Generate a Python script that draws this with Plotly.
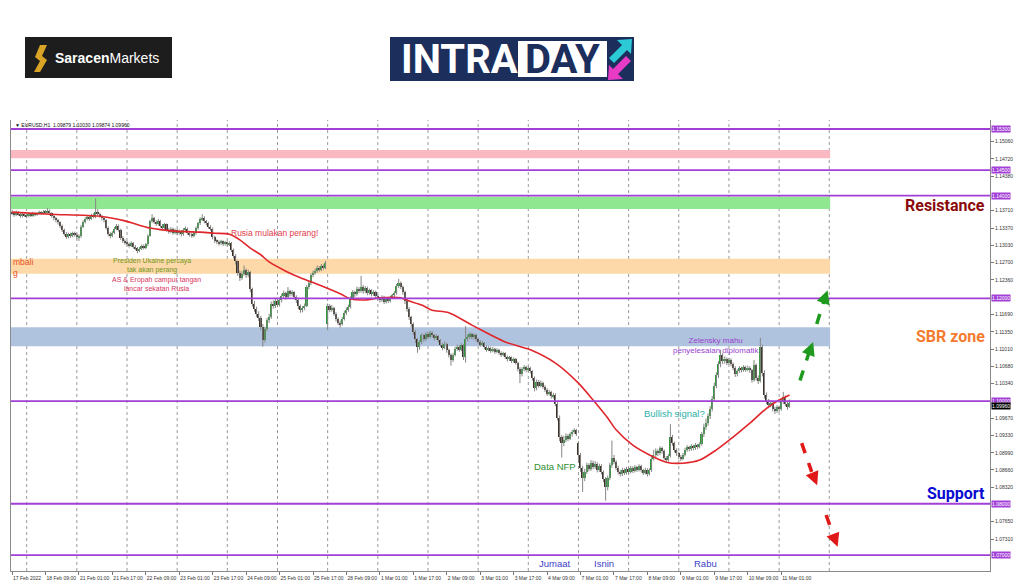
import plotly.graph_objects as go

# ---------------- data (EURUSD H1, bar index 0 = 17 Feb 2022 17:00) ----------------
bar_open = [
1.1368,1.1366,1.1363,1.1367,1.1364,1.1361,1.1365,1.1362,1.1360,1.1364,
1.1361,1.1366,1.1363,1.1365,1.1368,1.1366,1.1369,1.1367,1.1370,1.1366,
1.1360,1.1356,1.1352,1.1348,1.1341,1.1333,1.1326,1.1320,1.1325,1.1322,
1.1327,1.1324,1.1319,1.1321,1.1340,1.1349,1.1355,1.1358,1.1355,1.1361,
1.1359,1.1368,1.1364,1.1361,1.1356,1.1352,1.1338,1.1326,1.1322,1.1328,
1.1336,1.1341,1.1334,1.1318,1.1312,1.1309,1.1306,1.1303,1.1308,1.1301,
1.1298,1.1293,1.1297,1.1302,1.1299,1.1305,1.1322,1.1350,1.1357,1.1349,
1.1345,1.1351,1.1342,1.1338,1.1344,1.1334,1.1330,1.1336,1.1328,1.1333,
1.1327,1.1331,1.1325,1.1334,1.1336,1.1328,1.1324,1.1322,1.1327,1.1337,
1.1346,1.1354,1.1357,1.1350,1.1346,1.1340,1.1336,1.1319,1.1312,1.1310,
1.1307,1.1311,1.1306,1.1309,1.1305,1.1308,1.1294,1.1283,1.1272,1.1250,
1.1240,1.1248,1.1255,1.1245,1.1251,1.1218,1.1190,1.1180,1.1170,1.1162,
1.1145,1.1118,1.1140,1.1158,1.1163,1.1190,1.1185,1.1195,1.1188,1.1196,
1.1205,1.1210,1.1202,1.1214,1.1208,1.1212,1.1203,1.1196,1.1185,1.1177,
1.1181,1.1186,1.1222,1.1230,1.1245,1.1250,1.1254,1.1260,1.1256,1.1263,
1.1260,1.1150,1.1185,1.1178,1.1182,1.1170,1.1160,1.1153,1.1150,1.1160,
1.1172,1.1178,1.1183,1.1200,1.1212,1.1208,1.1218,1.1215,1.1222,1.1214,
1.1220,1.1210,1.1216,1.1208,1.1213,1.1205,1.1200,1.1196,1.1203,1.1193,
1.1199,1.1195,1.1202,1.1206,1.1210,1.1224,1.1230,1.1222,1.1212,1.1194,
1.1180,1.1163,1.1150,1.1135,1.1120,1.1106,1.1115,1.1128,1.1120,1.1130,
1.1125,1.1133,1.1128,1.1122,1.1126,1.1118,1.1110,1.1104,1.1112,1.1099,
1.1090,1.1080,1.1090,1.1102,1.1106,1.1100,1.1109,1.1085,1.1120,1.1125,
1.1130,1.1124,1.1128,1.1120,1.1116,1.1110,1.1113,1.1105,1.1100,1.1104,
1.1098,1.1102,1.1096,1.1100,1.1094,1.1090,1.1093,1.1086,1.1081,1.1085,
1.1078,1.1082,1.1075,1.1063,1.1052,1.1062,1.1066,1.1060,1.1064,1.1058,
1.1045,1.1025,1.1038,1.1030,1.1036,1.1028,1.1022,1.1014,1.1018,1.1009,
1.1012,1.0995,1.0968,1.0930,1.0918,1.0925,1.0932,1.0927,1.0935,1.0940,
1.0943,1.0918,1.0895,1.0870,1.0850,1.0862,1.0875,1.0868,1.0880,1.0872,
1.0878,1.0866,1.0874,1.0862,1.0848,1.0832,1.0850,1.0875,1.0890,1.0882,
1.0870,1.0862,1.0858,1.0866,1.0860,1.0868,1.0862,1.0870,1.0864,1.0871,
1.0866,1.0873,1.0865,1.0860,1.0866,1.0858,1.0865,1.0888,1.0895,1.0902,
1.0898,1.0908,1.0903,1.0890,1.0885,1.0893,1.0930,1.0918,1.0905,1.0898,
1.0892,1.0888,1.0895,1.0905,1.0910,1.0906,1.0912,1.0908,1.0914,1.0911,
1.0916,1.0935,1.0950,1.0958,1.0970,1.0985,1.1005,1.1030,1.1050,1.1072,
1.1090,1.1078,1.1082,1.1075,1.1080,1.1072,1.1065,1.1052,1.1058,1.1064,
1.1060,1.1066,1.1061,1.1065,1.1060,1.1042,1.1070,1.1045,1.1040,1.1105,
1.1055,1.1012,1.1000,1.0992,1.0996,1.0985,1.0980,1.0988,1.0984,1.0998,
1.1008,1.0995,1.0988]

bar_high = [
1.1373,1.1369,1.1371,1.1370,1.1366,1.1368,1.1367,1.1365,1.1367,1.1366,
1.1369,1.1368,1.1368,1.1371,1.1370,1.1372,1.1372,1.1376,1.1373,1.1368,
1.1362,1.1359,1.1355,1.1350,1.1344,1.1336,1.1329,1.1328,1.1328,1.1330,
1.1330,1.1327,1.1325,1.1343,1.1352,1.1358,1.1362,1.1361,1.1365,1.1366,
1.1395,1.1374,1.1367,1.1363,1.1358,1.1354,1.1340,1.1329,1.1331,1.1339,
1.1345,1.1344,1.1336,1.1321,1.1315,1.1312,1.1309,1.1311,1.1310,1.1304,
1.1300,1.1300,1.1305,1.1305,1.1308,1.1325,1.1353,1.1364,1.1359,1.1352,
1.1355,1.1353,1.1345,1.1347,1.1346,1.1337,1.1339,1.1338,1.1336,1.1335,
1.1334,1.1333,1.1337,1.1340,1.1338,1.1331,1.1327,1.1330,1.1340,1.1349,
1.1358,1.1364,1.1360,1.1353,1.1349,1.1343,1.1338,1.1322,1.1315,1.1313,
1.1314,1.1313,1.1312,1.1311,1.1311,1.1310,1.1297,1.1286,1.1274,1.1254,
1.1253,1.1264,1.1258,1.1256,1.1253,1.1221,1.1195,1.1184,1.1175,1.1166,
1.1150,1.1145,1.1162,1.1170,1.1194,1.1196,1.1199,1.1199,1.1201,1.1209,
1.1215,1.1213,1.1222,1.1217,1.1216,1.1214,1.1206,1.1199,1.1188,1.1185,
1.1190,1.1226,1.1234,1.1249,1.1254,1.1258,1.1264,1.1263,1.1267,1.1266,
1.1273,1.1190,1.1189,1.1187,1.1184,1.1173,1.1163,1.1157,1.1164,1.1176,
1.1182,1.1188,1.1204,1.1216,1.1215,1.1223,1.1222,1.1244,1.1226,1.1224,
1.1223,1.1219,1.1218,1.1216,1.1215,1.1208,1.1203,1.1206,1.1205,1.1202,
1.1202,1.1205,1.1209,1.1214,1.1228,1.1238,1.1233,1.1225,1.1215,1.1197,
1.1183,1.1166,1.1153,1.1138,1.1123,1.1119,1.1132,1.1131,1.1134,1.1135,
1.1137,1.1136,1.1131,1.1130,1.1128,1.1121,1.1113,1.1116,1.1114,1.1102,
1.1093,1.1094,1.1106,1.1110,1.1109,1.1113,1.1111,1.1146,1.1130,1.1134,
1.1133,1.1132,1.1131,1.1123,1.1119,1.1117,1.1115,1.1108,1.1107,1.1106,
1.1105,1.1104,1.1103,1.1102,1.1097,1.1096,1.1095,1.1089,1.1088,1.1087,
1.1085,1.1084,1.1077,1.1066,1.1066,1.1070,1.1069,1.1068,1.1067,1.1060,
1.1048,1.1042,1.1041,1.1040,1.1038,1.1031,1.1025,1.1022,1.1020,1.1016,
1.1015,1.0998,1.0972,1.0934,1.0932,1.0937,1.0936,1.0939,1.0944,1.0947,
1.0946,1.0922,1.0899,1.0874,1.0868,1.0880,1.0879,1.0885,1.0884,1.0883,
1.0881,1.0878,1.0877,1.0865,1.0852,1.0855,1.0880,1.0923,1.0895,1.0885,
1.0874,1.0866,1.0870,1.0869,1.0872,1.0871,1.0874,1.0873,1.0875,1.0874,
1.0877,1.0876,1.0868,1.0870,1.0869,1.0869,1.0893,1.0905,1.0908,1.0906,
1.0912,1.0911,1.0906,1.0893,1.0897,1.0955,1.0934,1.0921,1.0908,1.0901,
1.0895,1.0899,1.0909,1.0914,1.0913,1.0916,1.0915,1.0918,1.0917,1.0920,
1.0940,1.0956,1.0966,1.0976,1.0990,1.1010,1.1036,1.1056,1.1078,1.1100,
1.1094,1.1087,1.1085,1.1084,1.1083,1.1075,1.1068,1.1062,1.1068,1.1067,
1.1070,1.1069,1.1069,1.1068,1.1063,1.1080,1.1073,1.1050,1.1123,1.1110,
1.1060,1.1017,1.1004,1.1001,1.0999,1.0989,1.0992,1.0991,1.1003,1.1018,
1.1011,1.0999,1.1003]

bar_low = [
1.1362,1.1359,1.1360,1.1361,1.1357,1.1358,1.1359,1.1356,1.1358,1.1358,
1.1359,1.1360,1.1361,1.1363,1.1363,1.1364,1.1364,1.1365,1.1362,1.1357,
1.1352,1.1348,1.1344,1.1337,1.1329,1.1322,1.1316,1.1317,1.1318,1.1319,
1.1320,1.1315,1.1312,1.1318,1.1337,1.1346,1.1352,1.1351,1.1353,1.1356,
1.1356,1.1360,1.1357,1.1352,1.1348,1.1334,1.1321,1.1317,1.1319,1.1325,
1.1333,1.1330,1.1314,1.1308,1.1305,1.1302,1.1299,1.1300,1.1297,1.1294,
1.1288,1.1290,1.1294,1.1295,1.1296,1.1302,1.1320,1.1347,1.1345,1.1341,
1.1342,1.1338,1.1334,1.1335,1.1330,1.1326,1.1327,1.1324,1.1325,1.1323,
1.1324,1.1321,1.1322,1.1331,1.1324,1.1320,1.1318,1.1319,1.1324,1.1334,
1.1343,1.1351,1.1346,1.1342,1.1336,1.1332,1.1315,1.1308,1.1306,1.1303,
1.1304,1.1302,1.1303,1.1301,1.1302,1.1290,1.1278,1.1266,1.1244,1.1234,
1.1236,1.1244,1.1240,1.1241,1.1212,1.1184,1.1174,1.1164,1.1156,1.1138,
1.1106,1.1114,1.1136,1.1152,1.1160,1.1180,1.1181,1.1183,1.1184,1.1192,
1.1201,1.1197,1.1199,1.1204,1.1204,1.1198,1.1191,1.1179,1.1172,1.1173,
1.1177,1.1183,1.1218,1.1226,1.1241,1.1246,1.1250,1.1252,1.1253,1.1256,
1.1257,1.1138,1.1173,1.1174,1.1166,1.1155,1.1148,1.1143,1.1147,1.1157,
1.1168,1.1174,1.1180,1.1197,1.1203,1.1205,1.1210,1.1211,1.1209,1.1210,
1.1206,1.1207,1.1204,1.1205,1.1201,1.1196,1.1192,1.1193,1.1189,1.1190,
1.1191,1.1192,1.1199,1.1203,1.1207,1.1220,1.1218,1.1207,1.1189,1.1174,
1.1158,1.1144,1.1129,1.1113,1.1094,1.1100,1.1111,1.1116,1.1117,1.1121,
1.1122,1.1124,1.1118,1.1119,1.1114,1.1106,1.1099,1.1101,1.1094,1.1085,
1.1069,1.1076,1.1087,1.1098,1.1096,1.1097,1.1080,1.1075,1.1116,1.1121,
1.1120,1.1120,1.1116,1.1112,1.1106,1.1107,1.1101,1.1096,1.1097,1.1094,
1.1095,1.1092,1.1093,1.1090,1.1086,1.1087,1.1082,1.1077,1.1078,1.1074,
1.1075,1.1071,1.1058,1.1035,1.1048,1.1058,1.1056,1.1057,1.1054,1.1040,
1.1019,1.1021,1.1026,1.1027,1.1024,1.1018,1.1010,1.1011,1.1005,1.1005,
1.0990,1.0962,1.0922,1.0890,1.0912,1.0920,1.0922,1.0924,1.0931,1.0936,
1.0932,1.0880,1.0862,1.0823,1.0844,1.0858,1.0863,1.0864,1.0867,1.0868,
1.0861,1.0862,1.0857,1.0842,1.0806,1.0826,1.0846,1.0870,1.0877,1.0865,
1.0857,1.0853,1.0854,1.0856,1.0857,1.0858,1.0859,1.0860,1.0861,1.0862,
1.0863,1.0861,1.0856,1.0857,1.0853,1.0855,1.0862,1.0884,1.0890,1.0893,
1.0895,1.0898,1.0885,1.0880,1.0882,1.0890,1.0913,1.0900,1.0893,1.0887,
1.0883,1.0885,1.0892,1.0901,1.0902,1.0903,1.0904,1.0905,1.0907,1.0908,
1.0913,1.0930,1.0944,1.0952,1.0965,1.0980,1.1000,1.1025,1.1045,1.1066,
1.1072,1.1073,1.1070,1.1071,1.1068,1.1060,1.1047,1.1048,1.1055,1.1056,
1.1057,1.1057,1.1058,1.1055,1.1036,1.1038,1.1040,1.1033,1.1036,1.1048,
1.1005,1.0994,1.0986,1.0988,1.0980,1.0975,1.0977,1.0979,1.0981,1.0994,
1.0990,1.0983,1.0987]

bar_close = [
1.1366,1.1363,1.1367,1.1364,1.1361,1.1365,1.1362,1.1360,1.1364,1.1361,
1.1366,1.1363,1.1365,1.1368,1.1366,1.1369,1.1367,1.1370,1.1366,1.1360,
1.1356,1.1352,1.1348,1.1341,1.1333,1.1326,1.1320,1.1325,1.1322,1.1327,
1.1324,1.1319,1.1321,1.1340,1.1349,1.1355,1.1358,1.1355,1.1361,1.1359,
1.1368,1.1364,1.1361,1.1356,1.1352,1.1338,1.1326,1.1322,1.1328,1.1336,
1.1341,1.1334,1.1318,1.1312,1.1309,1.1306,1.1303,1.1308,1.1301,1.1298,
1.1293,1.1297,1.1302,1.1299,1.1305,1.1322,1.1350,1.1357,1.1349,1.1345,
1.1351,1.1342,1.1338,1.1344,1.1334,1.1330,1.1336,1.1328,1.1333,1.1327,
1.1331,1.1325,1.1334,1.1336,1.1328,1.1324,1.1322,1.1327,1.1337,1.1346,
1.1354,1.1357,1.1350,1.1346,1.1340,1.1336,1.1319,1.1312,1.1310,1.1307,
1.1311,1.1306,1.1309,1.1305,1.1308,1.1294,1.1283,1.1272,1.1250,1.1240,
1.1248,1.1255,1.1245,1.1251,1.1218,1.1190,1.1180,1.1170,1.1162,1.1145,
1.1118,1.1140,1.1158,1.1163,1.1190,1.1185,1.1195,1.1188,1.1196,1.1205,
1.1210,1.1202,1.1214,1.1208,1.1212,1.1203,1.1196,1.1185,1.1177,1.1181,
1.1186,1.1222,1.1230,1.1245,1.1250,1.1254,1.1260,1.1256,1.1263,1.1260,
1.1268,1.1185,1.1178,1.1182,1.1170,1.1160,1.1153,1.1150,1.1160,1.1172,
1.1178,1.1183,1.1200,1.1212,1.1208,1.1218,1.1215,1.1222,1.1214,1.1220,
1.1210,1.1216,1.1208,1.1213,1.1205,1.1200,1.1196,1.1203,1.1193,1.1199,
1.1195,1.1202,1.1206,1.1210,1.1224,1.1230,1.1222,1.1212,1.1194,1.1180,
1.1163,1.1150,1.1135,1.1120,1.1106,1.1115,1.1128,1.1120,1.1130,1.1125,
1.1133,1.1128,1.1122,1.1126,1.1118,1.1110,1.1104,1.1112,1.1099,1.1090,
1.1080,1.1090,1.1102,1.1106,1.1100,1.1109,1.1085,1.1120,1.1125,1.1130,
1.1124,1.1128,1.1120,1.1116,1.1110,1.1113,1.1105,1.1100,1.1104,1.1098,
1.1102,1.1096,1.1100,1.1094,1.1090,1.1093,1.1086,1.1081,1.1085,1.1078,
1.1082,1.1075,1.1063,1.1052,1.1062,1.1066,1.1060,1.1064,1.1058,1.1045,
1.1025,1.1038,1.1030,1.1036,1.1028,1.1022,1.1014,1.1018,1.1009,1.1012,
1.0995,1.0968,1.0930,1.0918,1.0925,1.0932,1.0927,1.0935,1.0940,1.0943,
1.0936,1.0895,1.0870,1.0850,1.0862,1.0875,1.0868,1.0880,1.0872,1.0878,
1.0866,1.0874,1.0862,1.0848,1.0832,1.0850,1.0875,1.0890,1.0882,1.0870,
1.0862,1.0858,1.0866,1.0860,1.0868,1.0862,1.0870,1.0864,1.0871,1.0866,
1.0873,1.0865,1.0860,1.0866,1.0858,1.0865,1.0888,1.0895,1.0902,1.0898,
1.0908,1.0903,1.0890,1.0885,1.0893,1.0930,1.0918,1.0905,1.0898,1.0892,
1.0888,1.0895,1.0905,1.0910,1.0906,1.0912,1.0908,1.0914,1.0911,1.0916,
1.0935,1.0950,1.0958,1.0970,1.0985,1.1005,1.1030,1.1050,1.1072,1.1090,
1.1078,1.1082,1.1075,1.1080,1.1072,1.1065,1.1052,1.1058,1.1064,1.1060,
1.1066,1.1061,1.1065,1.1060,1.1042,1.1070,1.1045,1.1040,1.1105,1.1055,
1.1012,1.1000,1.0992,1.0996,1.0985,1.0980,1.0988,1.0984,1.0998,1.1008,
1.0995,1.0988,1.0996]

# moving average (bar index, price)
ma_bar = [0, 18, 42, 54, 66, 78, 90, 97, 104, 109, 114, 119, 123, 131, 138, 147, 157, 162,
          169, 176, 186, 190, 196, 201, 209, 220, 236, 248, 260, 271, 278, 285, 289, 297,
          305, 313, 321, 329, 337, 345, 353, 361, 367, 372]
ma_value = [1.1368, 1.1364, 1.1360, 1.1351, 1.1337, 1.1331, 1.1329, 1.1327, 1.1325, 1.1314,
            1.1298, 1.1285, 1.1271, 1.1253, 1.1240, 1.1226, 1.1209, 1.1199, 1.1197, 1.1201,
            1.1201, 1.1195, 1.1187, 1.1177, 1.1172, 1.1148, 1.1115, 1.1100, 1.1074, 1.1035,
            1.1002, 1.0967, 1.0944, 1.0914, 1.0895, 1.0881, 1.0879, 1.0885, 1.0905, 1.0930,
            1.0957, 1.0986, 1.1002, 1.1012]

time_tick_bar = [0, 16, 32, 48, 64, 80, 96, 112, 128, 144, 160, 176, 192, 208, 224, 240,
                 256, 272, 288, 304, 320, 336, 352, 368]
time_tick_text = ["17 Feb 2022", "18 Feb 09:00", "21 Feb 01:00", "21 Feb 17:00", "22 Feb 09:00",
                  "23 Feb 01:00", "23 Feb 17:00", "24 Feb 09:00", "25 Feb 01:00", "25 Feb 17:00",
                  "28 Feb 09:00", "1 Mar 01:00", "1 Mar 17:00", "2 Mar 09:00", "3 Mar 01:00",
                  "3 Mar 17:00", "4 Mar 09:00", "7 Mar 01:00", "7 Mar 17:00", "8 Mar 09:00",
                  "9 Mar 01:00", "9 Mar 17:00", "10 Mar 09:00", "11 Mar 01:00"]
day_start_bar = [7, 31, 55, 79, 103, 127, 151, 175, 199, 223, 247, 271, 295, 319, 343, 367, 391]

price_ticks = [1.15060, 1.14720, 1.14380, 1.13710, 1.13370, 1.13030, 1.12700, 1.12360, 1.11690,
               1.11350, 1.11010, 1.10680, 1.10340, 1.09670, 1.09330, 1.08990, 1.08660, 1.08320,
               1.07650, 1.07310]
key_levels = [1.15300, 1.14500, 1.14000, 1.12000, 1.10000, 1.08000, 1.07000]
zone_low = [1.1473, 1.1374, 1.1248, 1.1107]
zone_high = [1.1489, 1.1398, 1.1277, 1.1144]
zone_colors = ["#f9b8c2", "#8fe88f", "#fdd8a8", "#b0c3de"]
last_bar_ohlc = "1.09879 1.10030 1.09874 1.09960"
last_price = 1.09960

# ---------------- figure ----------------
n = len(bar_close)
assert len(bar_open) == n and len(bar_high) == n and len(bar_low) == n
idx = list(range(n))

X_RANGE = [-0.5, 467.9]
Y_RANGE = [1.0669, 1.15475]
W, H = 1024, 587
ML, MR, MT, MB = 11, 34, 120, 16
PW, PH = W - ML - MR, H - MT - MB


def px(x):  # page pixel -> paper x
    return (x - ML) / PW


def py(y):  # page pixel -> paper y
    return 1 - (y - MT) / PH


fig = go.Figure()

# wicks
wx, wy = [], []
for i in idx:
    wx += [i, i, None]
    wy += [bar_low[i], bar_high[i], None]
fig.add_trace(go.Scatter(x=wx, y=wy, mode="lines", line=dict(color="#858585", width=1),
                         hoverinfo="skip", showlegend=False))

# bodies
body_base = [min(o, c) for o, c in zip(bar_open, bar_close)]
body_len = [abs(c - o) for o, c in zip(bar_open, bar_close)]
body_col = ["#2f9a3a" if c >= o else "#3b3026" for o, c in zip(bar_open, bar_close)]
fig.add_trace(go.Bar(x=idx, y=body_len, base=body_base, width=0.75,
                     marker=dict(color=body_col, line=dict(width=0)),
                     hoverinfo="skip", showlegend=False))

# moving average
fig.add_trace(go.Scatter(x=ma_bar, y=ma_value, mode="lines", line=dict(color="#e0262b", width=1.6,
                         shape="spline", smoothing=0.8), hoverinfo="skip", showlegend=False))

shapes = []
# zones
for lo, hi, col in zip(zone_low, zone_high, zone_colors):
    shapes.append(dict(type="rect", xref="x", yref="y", x0=X_RANGE[0], x1=day_start_bar[-1] + 0.4,
                       y0=lo, y1=hi, fillcolor=col, line=dict(width=0), layer="below"))
# day grid
for d in day_start_bar:
    shapes.append(dict(type="line", xref="x", yref="paper", x0=d, x1=d, y0=0, y1=1,
                       line=dict(color="#9a9a9a", width=1, dash="dot"), layer="below"))
# key levels
for lv in key_levels:
    shapes.append(dict(type="line", xref="paper", yref="y", x0=0, x1=1, y0=lv, y1=lv,
                       line=dict(color="#a23fd6", width=1.8), layer="above"))

# dashed forecast arrows (shafts + heads)
arrow_specs = [
    ("#1f9a1f", (377.0, 1.1040), (381.2, 1.1093), (383.3, 1.1115)),
    ("#1f9a1f", (385.0, 1.1150), (388.5, 1.1196), (390.2, 1.1216)),
    ("#e01818", (377.8, 1.0918), (382.6, 1.0862), (385.2, 1.0836)),
    ("#e01818", (389.5, 1.0778), (392.6, 1.0742), (395.0, 1.0716)),
]
annotations = []
for col, p0, p1, tip in arrow_specs:
    shapes.append(dict(type="line", xref="x", yref="y", x0=p0[0], y0=p0[1], x1=p1[0], y1=p1[1],
                       line=dict(color=col, width=3.5, dash="dash")))
    annotations.append(dict(xref="x", yref="y", axref="x", ayref="y", x=tip[0], y=tip[1],
                            ax=p1[0], ay=p1[1], text="", showarrow=True, arrowhead=2,
                            arrowsize=0.9, arrowwidth=3, arrowcolor=col))

# ---- logos (page decoration) ----
shapes.append(dict(type="rect", xref="paper", yref="paper", x0=px(25), x1=px(172), y0=py(78), y1=py(37),
                   fillcolor="#1d1d1d", line=dict(width=0)))


def poly(pts):
    return "M " + " L ".join("{} {}".format(px(a), py(b)) for a, b in pts) + " Z"


shapes.append(dict(type="path", xref="paper", yref="paper",
                   path=poly([(40, 45), (47, 45), (42, 56), (47, 60), (40, 72), (34, 72), (40, 61), (35, 57)]),
                   fillcolor="#d9a425", line=dict(width=0)))
shapes.append(dict(type="rect", xref="paper", yref="paper", x0=px(390), x1=px(634), y0=py(81), y1=py(37),
                   fillcolor="#1b2e5c", line=dict(width=0)))
shapes.append(dict(type="rect", xref="paper", yref="paper", x0=px(518), x1=px(607), y0=py(77), y1=py(41),
                   fillcolor="#ffffff", line=dict(width=0)))
shapes.append(dict(type="path", xref="paper", yref="paper",
                   path=poly([(632, 39), (617, 40), (622, 45), (609, 58), (614, 63), (627, 50), (631, 54)]),
                   fillcolor="#2cc9d6", line=dict(width=0)))
shapes.append(dict(type="path", xref="paper", yref="paper",
                   path=poly([(608, 80), (623, 79), (618, 74), (631, 61), (626, 56), (613, 69), (609, 65)]),
                   fillcolor="#e93ac6", line=dict(width=0)))

annotations += [
    dict(xref="paper", yref="paper", x=px(107), y=py(58), xanchor="center", yanchor="middle",
         text="<b>Saracen</b>Markets", showarrow=False,
         font=dict(family="Liberation Sans", size=14, color="#ffffff")),
    dict(xref="paper", yref="paper", x=px(459), y=py(59), xanchor="center", yanchor="middle",
         text="<b>INTRA</b>", showarrow=False,
         font=dict(family="Roboto", size=40, color="#ffffff")),
    dict(xref="paper", yref="paper", x=px(562), y=py(59), xanchor="center", yanchor="middle",
         text="<b>DAY</b>", showarrow=False,
         font=dict(family="Roboto", size=40, color="#1b2e5c")),
]

# chart header
annotations.append(dict(xref="paper", yref="paper", x=0.002, y=1.0, xanchor="left", yanchor="top",
                        text="▼ EURUSD,H1  " + last_bar_ohlc, showarrow=False,
                        font=dict(family="Liberation Sans", size=5, color="#111111")))

# level price labels on the right
for lv in key_levels:
    annotations.append(dict(xref="paper", yref="y", x=1.0, y=lv, xanchor="left", yanchor="middle",
                            xshift=1, text="%.5f" % lv, showarrow=False, bgcolor="#a23fd6",
                            borderpad=0, font=dict(family="Liberation Sans", size=5, color="#ffffff")))
annotations.append(dict(xref="paper", yref="y", x=1.0, y=last_price, xanchor="left", yanchor="middle",
                        xshift=1, yshift=-3, text="%.5f" % last_price, showarrow=False, bgcolor="#000000",
                        borderpad=0, font=dict(family="Liberation Sans", size=5, color="#ffffff")))
annotations.append(dict(xref="paper", yref="y", x=1.0, y=1.06640, xanchor="left", yanchor="middle",
                        xshift=3, text="1.06640", showarrow=False,
                        font=dict(family="Liberation Sans", size=5, color="#333333")))


def note(text, x, y, color, size, xanchor="center", bold=False, xref="x", family="Liberation Sans",
         align="center"):
    annotations.append(dict(xref=xref, yref="y", x=x, y=y, xanchor=xanchor, yanchor="middle",
                            text=("<b>%s</b>" % text) if bold else text, showarrow=False, align=align,
                            font=dict(family=family, size=size, color=color)))


note("Rusia mulakan perang!", 104, 1.1328, "#e23b4a", 8.5, xanchor="left")
note("Presiden Ukaine percaya<br>tak akan perang", 67, 1.12635, "#73961f", 7)
note("AS &amp; Eropah campur tangan<br>lancar sekatan Rusia", 69, 1.12275, "#d9365e", 7)
note("mbali<br>g", -0.5, 1.1261, "#e8501e", 8.5, xanchor="left", align="left")
note("Zelensky mahu<br>penyelesaian diplomatik", 337, 1.1108, "#9b3fd0", 8)
note("Bullish signal?", 317, 1.0975, "#2bb0a8", 9.5)
note("Data NFP", 260, 1.0872, "#2f8f2f", 9.5)
note("Jumaat", 260, 1.0683, "#3d3dc8", 9.5)
note("Isnin", 283, 1.0683, "#3d3dc8", 9.5)
note("Rabu", 332, 1.0683, "#3d3dc8", 9.5)
note("Resistance", px(987), 1.1380, "#8b0a0a", 16, xanchor="right", bold=True, xref="paper", family="Roboto")
note("SBR zone", px(987), 1.1125, "#f47b30", 16, xanchor="right", bold=True, xref="paper", family="Roboto")
note("Support", px(987), 1.0819, "#0a0ad0", 16, xanchor="right", bold=True, xref="paper", family="Roboto")

fig.update_layout(
    width=W, height=H, margin=dict(l=ML, r=MR, t=MT, b=MB, autoexpand=False),
    paper_bgcolor="#ffffff", plot_bgcolor="#ffffff",
    showlegend=False, bargap=0, shapes=shapes, annotations=annotations,
    xaxis=dict(range=X_RANGE, tickmode="array", tickvals=time_tick_bar, ticktext=time_tick_text,
               tickangle=0, automargin=False, ticklabelstandoff=2,
               ticklabelposition="outside right", ticks="outside", ticklen=3, tickcolor="#777777",
               showgrid=False, zeroline=False, showline=True, linecolor="#8a8a8a", linewidth=1,
               tickfont=dict(family="Liberation Sans", size=5, color="#333333"), fixedrange=True),
    yaxis=dict(range=Y_RANGE, side="right", tickmode="array", tickvals=price_ticks,
               ticktext=["%.5f" % v for v in price_ticks], ticks="outside", ticklen=3, automargin=False,
               tickcolor="#777777", showgrid=False, zeroline=False, showline=True, mirror=True,
               linecolor="#8a8a8a", linewidth=1,
               tickfont=dict(family="Liberation Sans", size=5, color="#333333"), fixedrange=True),
)

fig.write_html("out.html", config={"displayModeBar": False},
               post_script="document.body.style.margin='0px';document.body.style.overflow='hidden';")
